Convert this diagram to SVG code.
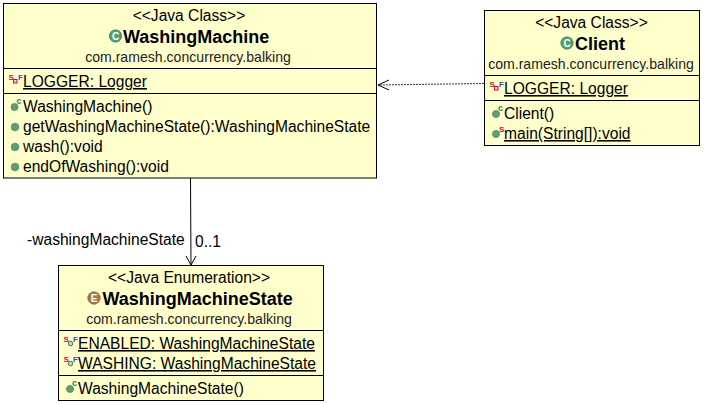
<svg xmlns="http://www.w3.org/2000/svg" width="704" height="404" viewBox="0 0 704 404">
<style>
text{font-family:"Liberation Sans",Arial,sans-serif;font-size:15.6px;fill:#000}
.c{text-anchor:middle}
.n{font-weight:bold;font-size:18px}
.p{font-size:14.1px;fill:#222}
.u{text-decoration:underline}
.b{fill:#ffffcc;stroke:#000;stroke-width:1}
.l{stroke:#000;stroke-width:1;fill:none}
.m{fill:#5f9f76;stroke:#4a8a62;stroke-width:.8}
.g{fill:#4f9f72;stroke:#3f8a60;stroke-width:.8}
.i{font-size:10px;font-weight:bold;fill:#fff;text-anchor:middle}
.cap{font-size:9px;font-weight:bold;fill:#1a8a3a}
.s{font-size:8px;font-weight:bold;fill:#c0104a}
.f{font-size:8px;font-weight:bold;fill:#2a50c0}
</style>
<defs>
<g id="pub"><circle r="3.800" class="m"/></g>
<g id="ctr"><circle r="3.500" class="m"/><text x="2" y="-3" class="cap">c</text></g>
<g id="sfr"><text x="-4.500" y="1" class="s">S</text><text x="5" y="1" class="f">F</text><rect x="0.500" y="0.500" width="3.500" height="3.500" fill="#f8c8d0" stroke="#c0104a"/></g>
<g id="sfg"><text x="-4.500" y="1" class="s">S</text><text x="5" y="1" class="f">F</text><circle cx="2.500" cy="2.500" r="2.300" fill="#b8dcb8" stroke="#3f7a55"/></g>
</defs>
<rect width="704" height="404" fill="#fff"/>
<g id="connectors">
<path d="M484 83.500L378 85" fill="none" stroke="#333" stroke-width="1" stroke-dasharray="2 1"/>
<path class="l" d="M389 80L378 85L389 90"/>
<path class="l" d="M190.500 178L191 265"/>
<path class="l" d="M186 256L191 265L196 256"/>
<text x="27" y="245">-washingMachineState</text>
<text x="195" y="247">0..1</text>
</g>
<g id="WashingMachine">
<rect class="b" x="3.500" y="3.500" width="373" height="174.500"/>
<path class="l" d="M3.500 68.500H376.500M3.500 93.500H376.500"/>
<text class="c" x="189" y="21">&lt;&lt;Java Class&gt;&gt;</text>
<circle class="g" cx="115.500" cy="36" r="6.200"/><text x="115.500" y="39.500" class="i">C</text>
<text x="123" y="43" class="n">WashingMachine</text>
<text class="c p" x="188" y="62">com.ramesh.concurrency.balking</text>
<use href="#sfr" x="13" y="79"/>
<text class="u" x="23" y="87">LOGGER: Logger</text>
<use href="#ctr" x="14.500" y="107"/>
<text x="23" y="112">WashingMachine()</text>
<use href="#pub" x="15" y="127"/>
<text x="23" y="132">getWashingMachineState():WashingMachineState</text>
<use href="#pub" x="15" y="147"/>
<text x="23" y="152">wash():void</text>
<use href="#pub" x="15" y="167"/>
<text x="23" y="172">endOfWashing():void</text>
</g>
<g id="Client">
<rect class="b" x="484.500" y="10.500" width="215" height="135"/>
<path class="l" d="M484.500 75.500H699.500M484.500 100.500H699.500"/>
<text class="c" x="591.500" y="28">&lt;&lt;Java Class&gt;&gt;</text>
<circle class="g" cx="567" cy="43" r="6.200"/><text x="567" y="46.500" class="i">C</text>
<text x="575" y="50" class="n">Client</text>
<text class="c p" x="591" y="69">com.ramesh.concurrency.balking</text>
<use href="#sfr" x="494" y="86"/>
<text class="u" x="504" y="94">LOGGER: Logger</text>
<use href="#ctr" x="496" y="114"/>
<text x="504" y="119">Client()</text>
<circle class="m" cx="496" cy="134" r="3.500"/><text class="s" x="499" y="132">S</text>
<text class="u" x="504" y="139">main(String[]):void</text>
</g>
<g id="WashingMachineState">
<rect class="b" x="58.500" y="265.500" width="265" height="135"/>
<path class="l" d="M58.500 330.500H323.500M58.500 375.500H323.500"/>
<text class="c" x="189" y="283">&lt;&lt;Java Enumeration&gt;&gt;</text>
<circle cx="94" cy="298" r="6.200" fill="#a8784a" stroke="#8a6038" stroke-width=".8"/><text x="94" y="301.500" class="i">E</text>
<text x="102.500" y="305" class="n">WashingMachineState</text>
<text class="c p" x="189" y="324">com.ramesh.concurrency.balking</text>
<use href="#sfg" x="68" y="341"/>
<text class="u" x="78" y="349">ENABLED: WashingMachineState</text>
<use href="#sfg" x="68" y="361"/>
<text class="u" x="78" y="369">WASHING: WashingMachineState</text>
<use href="#ctr" x="70" y="389"/>
<text x="78" y="394">WashingMachineState()</text>
</g>
</svg>
